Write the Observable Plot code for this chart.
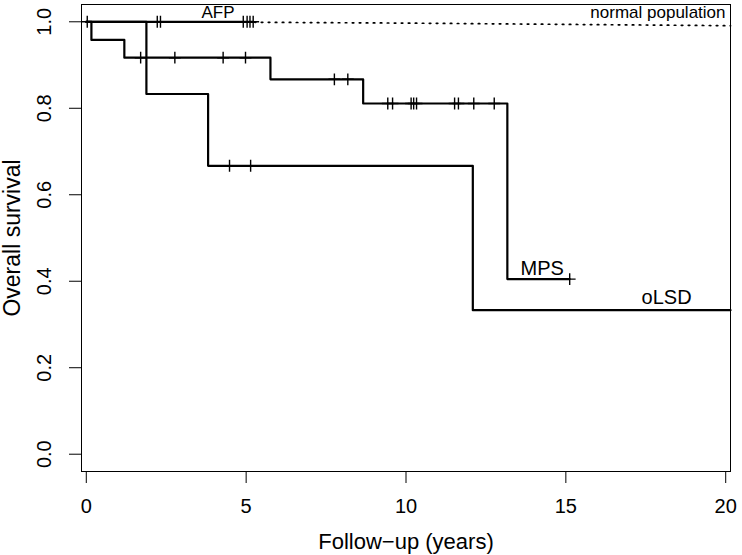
<!DOCTYPE html>
<html><head><meta charset="utf-8">
<script src="https://cdn.jsdelivr.net/npm/d3@7"></script>
<script src="https://cdn.jsdelivr.net/npm/@observablehq/plot@0.6"></script>
<style>
html,body{margin:0;padding:0;background:#fff;}
svg{display:block;}
</style></head><body><div id="chart"></div>
<script>
// ---- data ----
const xTicks = [0, 5, 10, 15, 20];
const yTicks = [0, 0.2, 0.4, 0.6, 0.8, 1.0];

const afpTime = [0, 5.22];
const afpSurv = [1, 1];
const afpCensor = [0.03, 2.22, 2.32, 4.91, 5.03, 5.12, 5.22];

const mpsTime = [0, 0.16, 1.19, 5.76, 8.66, 13.17, 15.12];
const mpsSurv = [1, 0.958, 0.917, 0.867, 0.811, 0.405, 0.405];
const mpsCensor = [1.70, 2.77, 4.28, 4.98, 7.76, 8.18, 9.43, 9.58, 10.16, 10.24, 10.33, 11.52, 11.64, 12.12, 12.76, 15.12];

const olsdTime = [0, 1.88, 3.81, 12.09, 20.15];
const olsdSurv = [1, 0.833, 0.667, 0.333, 0.333];
const olsdCensor = [4.48, 5.14];

const normTime = [0, 5, 10, 15, 20.15];
const normSurv = [1.0, 0.999, 0.997, 0.994, 0.991];

const labelNames = ["AFP", "normal population", "MPS", "oLSD"];
const labelX = [4.12, 17.88, 14.26, 18.15];
const labelY = [1.022, 1.022, 0.429, 0.362];
const labelSize = [17, 17, 20, 20];

// ---- build tables ----
const toRows = (t, s) => t.map((x, i) => ({x, y: s[i]}));
const survAt = (t, s, x) => s[Math.max(0, d3.bisectRight(t, x) - 1)];
const censorRows = (c, t, s) => c.map(x => ({x, y: survAt(t, s, x)}));

const curves = [
  toRows(afpTime, afpSurv),
  toRows(mpsTime, mpsSurv),
  toRows(olsdTime, olsdSurv)
];
const censors = [
  ...censorRows(afpCensor, afpTime, afpSurv),
  ...censorRows(mpsCensor, mpsTime, mpsSurv),
  ...censorRows(olsdCensor, olsdTime, olsdSurv)
];
const labels = labelNames.map((name, i) => ({name, x: labelX[i], y: labelY[i], size: labelSize[i]}));

const font = "'Liberation Sans', Arial, Helvetica, sans-serif";

const chart = Plot.plot({
  width: 742,
  height: 555,
  marginLeft: 81,
  marginRight: 12,
  marginTop: 4,
  marginBottom: 84,
  style: {fontFamily: font, fontSize: "20px", background: "white", color: "black"},
  x: {domain: [-0.15, 20.15]},
  y: {domain: [-0.04, 1.04]},
  marks: [
    Plot.frame({stroke: "black", strokeWidth: 1}),
    Plot.line(toRows(normTime, normSurv), {x: "x", y: "y", stroke: "black", strokeWidth: 1.7, strokeDasharray: "1.5,5.5"}),
    ...curves.map(rows => Plot.line(rows, {x: "x", y: "y", curve: "step-after", stroke: "black", strokeWidth: 2.2})),
    Plot.dot(censors, {x: "x", y: "y", symbol: "plus", r: 3.9, stroke: "black", strokeWidth: 1.4}),
    ...labels.map(l => Plot.text([l], {x: "x", y: "y", text: "name", fontSize: l.size, fill: "black"})),
    Plot.axisX(xTicks, {tickSize: 12, tickPadding: 15, fontSize: 20, tickFormat: d3.format("d"), label: null}),
    Plot.axisX({ticks: [], tickSize: 0, fontSize: 22, label: "Follow\u2212up (years)", labelAnchor: "center", labelOffset: 77, labelArrow: "none"}),
    Plot.axisY(yTicks, {tickSize: 12, tickPadding: 19, tickRotate: -90, fontSize: 20, tickFormat: d3.format(".1f"), label: null}),
    Plot.axisY({ticks: [], tickSize: 0, fontSize: 23, label: "Overall survival", labelAnchor: "center", labelOffset: 78, labelArrow: "none"})
  ]
});
document.getElementById("chart").appendChild(chart);
</script>
</body></html>
